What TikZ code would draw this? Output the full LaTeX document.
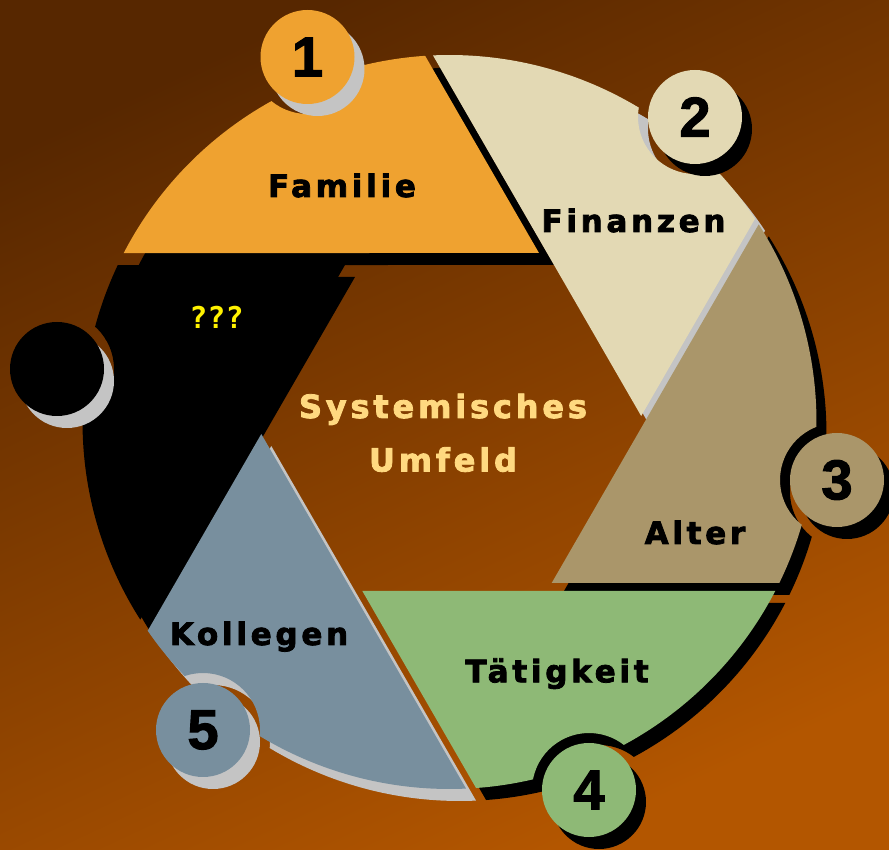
\documentclass[tikz,border=0pt]{standalone}
\usepackage{fontspec}
\newfontfamily\lblfont[LetterSpace=12, BoldFeatures={FakeBold=2.5}]{DejaVu Sans}
\newfontfamily\numfont[BoldFeatures={FakeBold=2}]{Liberation Sans}
\newfontfamily\qfont{DejaVu Sans Mono}
\definecolor{bgtop}{HTML}{572700}
\definecolor{bgmid}{HTML}{723400}
\definecolor{bgbot}{HTML}{B35600}
\definecolor{cFam}{HTML}{EFA230}
\definecolor{cFin}{HTML}{E3D9B4}
\definecolor{cAlt}{HTML}{AA966A}
\definecolor{cTat}{HTML}{8EB976}
\definecolor{cKol}{HTML}{788F9E}
\definecolor{shgray}{HTML}{C4C4C4}
\definecolor{cTxt}{HTML}{FFD980}
\def\Rr{367}
\def\Ap{169}
\newcommand\holes{(307.5,792) circle[radius=57pt] (695,732) circle[radius=57pt] (837,369) circle[radius=57pt] (589,59) circle[radius=57pt] (203,119) circle[radius=57pt] (57,480) circle[radius=57pt]}
\newcommand\drawblade[5]{%
  \pgfmathsetmacro\Vx{(0.5*\Ap-#2)/0.866025}%
  \pgfmathsetmacro\Btg{acos((\Ap-#2)/\Rr)}%
  \pgfmathsetmacro\Bt{acos(\Ap/\Rr)}%
  \pgfmathsetmacro\Aa{30+\Btg}%
  \pgfmathsetmacro\Ab{90+\Bt}%
  \begin{scope}[shift={(#4,#5)}]
    \clip[shift={(449.5,427)}, rotate=#1] (\Ab:\Rr pt) -- (\Vx,\Ap) -- (\Aa:\Rr pt) arc[start angle=\Aa, end angle=\Ab, radius=\Rr pt] -- cycle;
    \fill[#3, even odd rule] (-100,-100) rectangle (1000,1000) \holes;
  \end{scope}}
\tikzset{
  lbl/.style={font=\lblfont\bfseries\fontsize{31}{31}\selectfont, text=black, anchor=base, inner sep=0},
  ctr/.style={font=\lblfont\bfseries\fontsize{32}{32}\selectfont, text=cTxt, anchor=base, inner sep=0},
  num/.style={circle, minimum size=94pt, inner sep=0, font=\numfont\bfseries\fontsize{56}{56}\selectfont, text=black}
}
\begin{document}
\begin{tikzpicture}[x=1pt,y=1pt]
\useasboundingbox (0,0) rectangle (889,849);
\shade[top color=bgtop, middle color=bgmid, bottom color=bgbot, shading angle=25] (0,0) rectangle (889,849);
% shadows of the blades
\drawblade{0}{7}{black}{15}{-12}
\drawblade{-60}{6}{shgray}{10}{-12}
\drawblade{-120}{8}{black}{10}{-12}
\drawblade{-180}{9}{black}{10}{-12}
\drawblade{-240}{12}{shgray}{10}{-12}
\drawblade{-300}{12}{black}{10}{-12}
% blades
\drawblade{0}{7}{cFam}{0}{0}
\drawblade{-60}{6}{cFin}{0}{0}
\drawblade{-120}{8}{cAlt}{0}{0}
\drawblade{-180}{9}{cTat}{0}{0}
\drawblade{-240}{12}{cKol}{0}{0}
\drawblade{-300}{12}{black}{0}{0}
% numbered circles
\fill[shgray] (317.5,780) circle[radius=47pt];
\node[num, fill=cFam] (n1) at (307.5,792) {1};
\fill[black] (705,720) circle[radius=47pt];
\node[num, fill=cFin] (n2) at (695,732) {2};
\fill[black] (847,357) circle[radius=47pt];
\node[num, fill=cAlt] (n3) at (837,369) {3};
\fill[black] (599,47) circle[radius=47pt];
\node[num, fill=cTat] (n4) at (589,59) {4};
\fill[shgray] (213,107) circle[radius=47pt];
\node[num, fill=cKol] (n5) at (203,119) {5};
\fill[shgray] (67,468) circle[radius=47pt];
\node[num, fill=black] (n6) at (57,480) {};
% labels
\node[lbl] (tfam) at (342,652) {Familie};
\node[lbl] (tfin) at (633.5,617) {Finanzen};
\node[lbl] (talt) at (695,305) {Alter};
\node[lbl] (ttat) at (557,166.7) {Tätigkeit};
\node[lbl] (tkol) at (259,204) {Kollegen};
\node[font=\qfont\bfseries\fontsize{30}{30}\selectfont, text=yellow, anchor=base, inner sep=0] (tq) at (216.5,520) {???};
\node[ctr] (tsys) at (443,431) {Systemisches};
\node[ctr] (tumf) at (443,377.5) {Umfeld};
\end{tikzpicture}
\end{document}
